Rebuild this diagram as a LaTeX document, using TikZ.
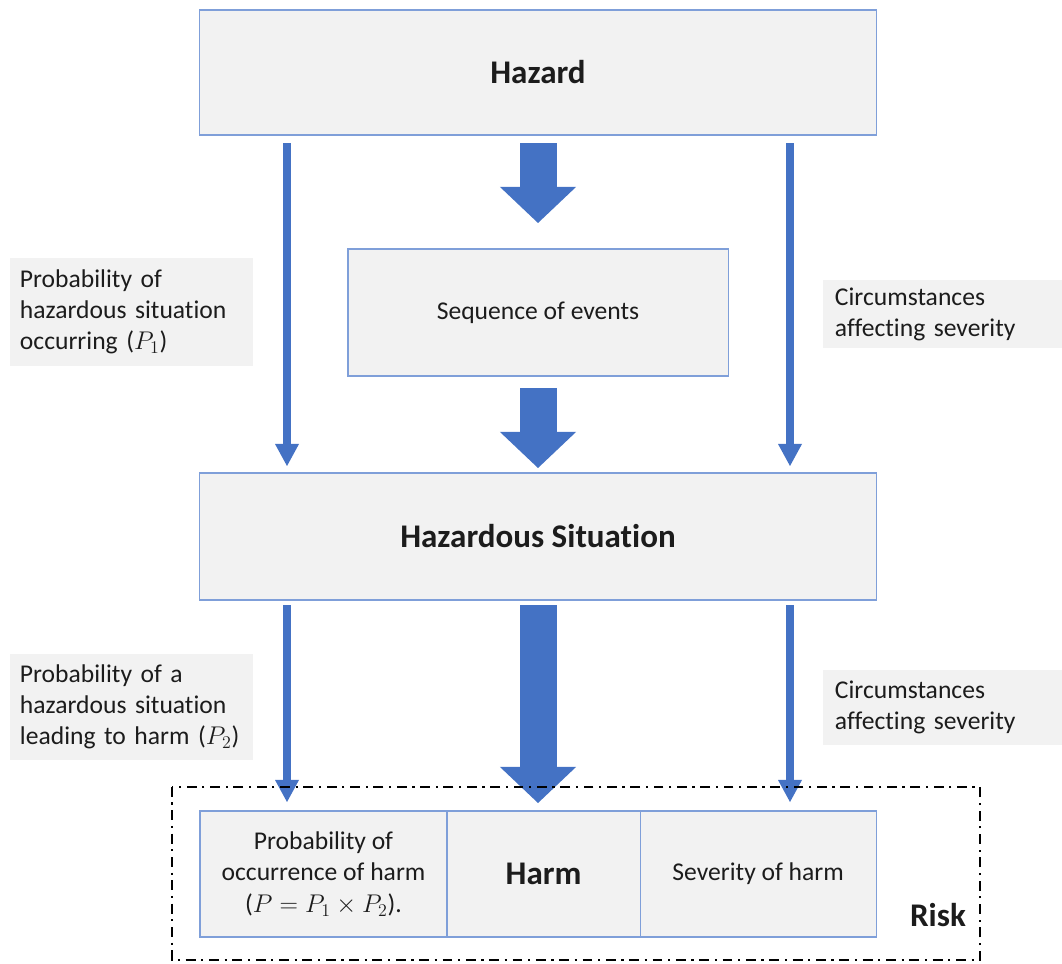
\RequirePackage{fix-cm}
\documentclass[tikz,border=0pt]{standalone}
\usepackage{fontspec}
\setmainfont{Carlito}[Ligatures=NoCommon]
\usepackage{tikz}
\usetikzlibrary{arrows.meta,positioning,calc}
\definecolor{boxfill}{HTML}{F2F2F2}
\definecolor{boxline}{HTML}{7F9FD9}
\definecolor{arrowblue}{HTML}{4472C4}
\definecolor{inktext}{HTML}{1C1C1C}
\tikzset{
  stagebox/.style={
    rectangle, draw=boxline, fill=boxfill, line width=0.8pt,
    minimum width=#1, align=center, text=inktext,
    inner sep=0pt, outer sep=0pt,
    font=\fontsize{18.2}{22.5}\selectfont
  },
  stagebox/.default=16.9cm,
  boldtext/.style={font=\fontsize{23.5}{28}\selectfont\bfseries},
  sidelabel/.style={
    rectangle, fill=boxfill, text=inktext,
    align=left, inner ysep=0pt, outer sep=0pt,
    font=\fontsize{18.2}{22}\selectfont
  },
  blockarrow/.style={
    draw=arrowblue, line width=0.925cm,
    -{Triangle[length=0.9cm, width=1.9cm, line width=0pt]}
  },
  thinarrow/.style={
    draw=arrowblue, line width=0.2cm,
    -{Triangle[length=0.55cm, width=0.6cm, line width=0pt]}
  },
  riskframe/.style={
    draw=black, line width=1.6pt,
    dash pattern=on 7pt off 4pt on 1.6pt off 4pt
  },
}

\begin{document}
\begin{tikzpicture}[x=0.025cm, y=-0.025cm]
  \useasboundingbox (0,0) rectangle (1062,963);

  % main chain
  \node[stagebox, minimum height=3.125cm, boldtext] (haz) at (538,72.5) {Hazard};
  \node[stagebox=9.5cm, minimum height=3.175cm] (seq) at (538,312.5) {Sequence of events};
  \node[stagebox, minimum height=3.175cm, boldtext] (hazsit) at (538,536.5) {Hazardous Situation};

  % bottom row
  \node[stagebox=6.175cm, minimum height=3.15cm] (prob) at (323.5,874)
    {Probability of\\occurrence of harm\\($P = P_1 \times P_2$).};
  \node[stagebox=4.825cm, minimum height=3.15cm, boldtext, anchor=west] (harm) at (prob.east) {Harm};
  \node[stagebox=5.9cm, minimum height=3.15cm, anchor=west] (sev) at (harm.east) {Severity of harm};

  % side labels
  \node[sidelabel, minimum width=6.075cm, minimum height=2.7cm, inner xsep=0.25cm, text width=5.575cm] (lp1) at (131.5,312)
    {Probability of\\hazardous situation\\occurring ($P_1$)};
  \node[sidelabel, minimum width=5.975cm, minimum height=1.7cm, inner xsep=0.3cm, text width=5.375cm] (rs1) at (942.5,314)
    {Circumstances\\affecting severity};
  \node[sidelabel, minimum width=6.075cm, minimum height=2.65cm, inner xsep=0.25cm, text width=5.575cm] (lp2) at (131.5,707)
    {Probability of a\\hazardous situation\\leading to harm ($P_2$)};
  \node[sidelabel, minimum width=5.975cm, minimum height=1.875cm, inner xsep=0.3cm, text width=5.375cm] (rs2) at (942.5,707.5)
    {Circumstances\\affecting severity};

  % arrows
  \coordinate (colL) at (287,0);
  \coordinate (colR) at (790,0);

  \draw[blockarrow] ([yshift=-0.2cm]haz.south) -- ([yshift=0.65cm]seq.north);
  \draw[blockarrow] ([yshift=-0.3cm]seq.south) -- ([yshift=0.125cm]hazsit.north);
  \draw[blockarrow] ([yshift=-0.125cm]hazsit.south) -- ([yshift=0.2cm]hazsit.south |- harm.north);

  \foreach \c in {colL,colR} {
    \draw[thinarrow] ([yshift=-0.2cm]\c |- haz.south) -- ([yshift=0.175cm]\c |- hazsit.north);
    \draw[thinarrow] ([yshift=-0.125cm]\c |- hazsit.south) -- ([yshift=0.225cm]\c |- prob.north);
  }

  % risk frame
  \draw[riskframe] (172,787) rectangle (980,960);
  \node[boldtext, text=inktext] (risk) at (938,915) {Risk};
\end{tikzpicture}
\end{document}
